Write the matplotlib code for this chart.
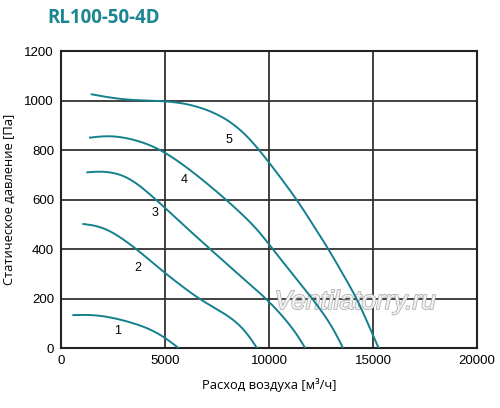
import numpy as np
from matplotlib import pyplot as plt
import matplotlib.patheffects as pe

plt.rcParams['font.family'] = ['Liberation Sans', 'DejaVu Sans']

# curve points (flow m3/h, pressure Pa)
q1 = [590, 1300, 2000, 3000, 4283, 5000, 5650]
p1 = [133, 137, 132, 113, 80, 45, 0]
q2 = [1075, 1555, 2500, 3640, 5000, 6690, 8290, 8900, 9420]
p2 = [501, 506, 470, 400, 302, 194, 120, 70, 0]
q3 = [1265, 1877, 3160, 4600, 6050, 7170, 8200, 9900, 10700, 11300, 11740]
p3 = [710, 720, 700, 598, 484, 400, 322, 198, 125, 65, 0]
q4 = [1395, 2360, 3960, 5000, 6370, 7970, 9420, 10140, 12140, 13000, 13560]
p4 = [850, 863, 834, 793, 710, 598, 484, 403, 194, 95, 0]
q5 = [1475, 2680, 3500, 5000, 6000, 7000, 7970, 8935, 10010, 11340, 12860, 14230, 15270]
p5 = [1025, 1006, 1001, 998, 990, 965, 928, 861, 750, 600, 400, 200, 0]

labels = ['1', '2', '3', '4', '5']
lbl_q = [2740, 3700, 4520, 5920, 8080]
lbl_p = [69, 323, 545, 679, 840]

curve_color = '#13808e'


def smooth(x, y, win=61):
  # resample along the polyline (screen-ish units) and run a moving average, twice
  sx, sy = 416 / 20000.0, 297 / 1200.0
  px = np.asarray(x, float) * sx
  py = np.asarray(y, float) * sy
  s = np.concatenate([[0], np.cumsum(np.hypot(np.diff(px), np.diff(py)))])
  ss = np.linspace(0, s[-1], int(s[-1] * 2) + 2)
  rx = np.interp(ss, s, px)
  ry = np.interp(ss, s, py)
  k = win // 2
  ker = np.ones(win) / win
  for _ in range(2):
    # point reflection at both ends keeps the end points in place
    ex = np.concatenate([2 * rx[0] - rx[k:0:-1], rx, 2 * rx[-1] - rx[-2:-k - 2:-1]])
    ey = np.concatenate([2 * ry[0] - ry[k:0:-1], ry, 2 * ry[-1] - ry[-2:-k - 2:-1]])
    rx = np.convolve(ex, ker, mode='valid')
    ry = np.convolve(ey, ker, mode='valid')
  return rx / sx, ry / sy


fig = plt.figure(figsize=(5, 4.08), dpi=100)
ax = fig.add_axes([0.122, 0.147, 0.832, 0.728])

for q, p in zip([q1, q2, q3, q4, q5], [p1, p2, p3, p4, p5]):
  qs, ps = smooth(q, p)
  ax.plot(qs, ps, color=curve_color, lw=1.4, zorder=3)

for l, x, y in zip(labels, lbl_q, lbl_p):
  ax.text(x, y, l, fontsize=9, ha='center', va='center', color='black', zorder=4)

ax.set_xlim(0, 20000)
ax.set_ylim(0, 1200)
ax.set_xticks([0, 5000, 10000, 15000, 20000])
ax.set_yticks([0, 200, 400, 600, 800, 1000, 1200])
ax.grid(True, color='#333333', lw=1.3)
ax.set_axisbelow(True)
for s in ax.spines.values():
  s.set_color('#222222')
  s.set_linewidth(1.5)
ax.tick_params(length=0, labelsize=9.5, pad=5)
ax.set_xlabel('Расход воздуха [м³/ч]', fontsize=9.3, family=['Open Sans', 'DejaVu Sans'], labelpad=8)
ax.set_ylabel('Статическое давление [Па]', fontsize=9.3, family=['Open Sans', 'DejaVu Sans'], labelpad=6)

ax.text(0.707, 0.155, 'Ventilatorry.ru', transform=ax.transAxes, fontsize=19, style='italic',
        color='#f2f2f2', ha='center', va='center', zorder=2,
        path_effects=[pe.withStroke(linewidth=1.2, foreground='#b0b0b0')])

fig.text(0.094, 0.955, 'RL100-50-4D', fontsize=13.5, fontweight='bold', color='#1a8593',
         family=['Open Sans', 'DejaVu Sans'], ha='left', va='center')

plt.savefig('out.png', dpi=100)
